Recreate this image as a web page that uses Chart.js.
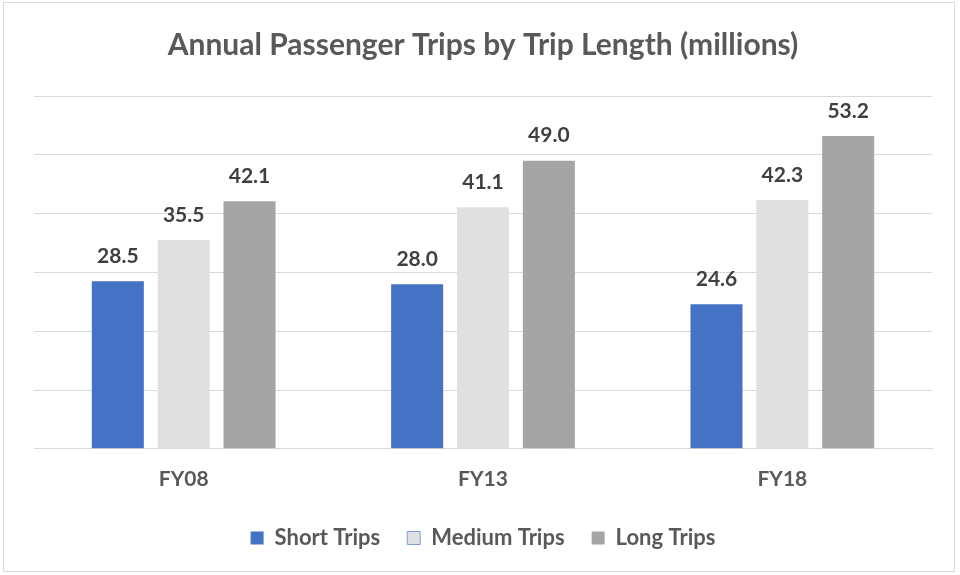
<!DOCTYPE html>
<html>
<head>
<meta charset="utf-8">
<script src="https://cdn.jsdelivr.net/npm/chart.js@4/dist/chart.umd.min.js"></script>
<style>
  html, body { margin: 0; padding: 0; background: #fff; }
  #wrap { position: relative; width: 960px; height: 575px; }
</style>
</head>
<body>
<div id="wrap"><canvas id="chart" width="960" height="575"></canvas></div>
<script>
const years = ['FY08', 'FY13', 'FY18'];
const shortTrips = [28.5, 28.0, 24.6];
const mediumTrips = [35.5, 41.1, 42.3];
const longTrips = [42.1, 49.0, 53.2];
const yTicks = [0, 10, 20, 30, 40, 50, 60];

const FONT = 'Lato, "Open Sans", sans-serif';

// thin frame round the whole chart
const frame = {
  id: 'frame',
  beforeDraw(c) {
    const ctx = c.ctx;
    ctx.save();
    ctx.fillStyle = '#fff';
    ctx.fillRect(0, 0, c.width, c.height);
    ctx.strokeStyle = '#d9d9d9';
    ctx.lineWidth = 1;
    ctx.strokeRect(3.5, 2.5, 951, 569);
    ctx.restore();
  }
};

// value labels above each bar
const barValues = {
  id: 'barValues',
  afterDatasetsDraw(c) {
    const ctx = c.ctx;
    ctx.save();
    ctx.font = 'bold 21px ' + FONT;
    ctx.fillStyle = '#404040';
    ctx.textAlign = 'center';
    ctx.textBaseline = 'middle';
    c.data.datasets.forEach((ds, i) => {
      c.getDatasetMeta(i).data.forEach((bar, j) => {
        ctx.fillText(ds.data[j].toFixed(1), bar.x, bar.y - 25);
      });
    });
    ctx.restore();
  }
};

chart = new Chart(document.getElementById('chart'), {
  type: 'bar',
  data: {
    labels: years,
    datasets: [
      { label: 'Short Trips', data: shortTrips, backgroundColor: '#4472c4' },
      { label: 'Medium Trips', data: mediumTrips, backgroundColor: '#e0e0e0' },
      { label: 'Long Trips', data: longTrips, backgroundColor: '#a5a5a5' }
    ]
  },
  options: {
    responsive: false,
    animation: false,
    layout: { padding: { left: 34, right: 28, bottom: 16 } },
    datasets: { bar: { categoryPercentage: 0.66, barPercentage: 0.79 } },
    scales: {
      x: {
        grid: { display: false, drawTicks: false },
        border: { color: '#d9d9d9' },
        ticks: { color: '#595959', font: { family: FONT, size: 21, weight: 'bold' }, padding: 18 },
        // pull the legend up closer to the category labels
        afterFit: s => { s.height -= 10; }
      },
      y: {
        min: 0,
        max: 60,
        afterBuildTicks: s => { s.ticks = yTicks.map(v => ({ value: v })); },
        grid: { color: '#d9d9d9', drawTicks: false },
        border: { display: false },
        ticks: { display: false }
      }
    },
    plugins: {
      title: {
        display: true,
        text: 'Annual Passenger Trips by Trip Length (millions)',
        color: '#595959',
        font: { family: FONT, size: 30, weight: 'bold' },
        padding: { top: 27, bottom: 33 }
      },
      legend: {
        position: 'bottom',
        labels: {
          color: '#595959',
          font: { family: FONT, size: 22, weight: 'bold' },
          boxWidth: 13,
          boxHeight: 13,
          padding: 27,
          generateLabels(c) {
            const items = Chart.defaults.plugins.legend.labels.generateLabels(c);
            items.forEach(it => {
              it.lineWidth = it.datasetIndex === 1 ? 1 : 0;
              it.strokeStyle = '#7e9bd6';
            });
            return items;
          }
        }
      },
      tooltip: { enabled: false }
    }
  },
  plugins: [frame, barValues]
});
</script>
</body>
</html>
